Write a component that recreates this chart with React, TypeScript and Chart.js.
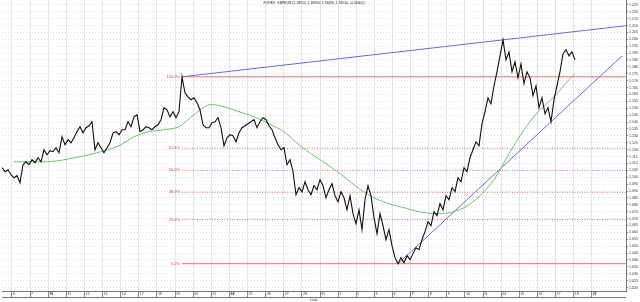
import React, { useEffect, useRef } from "react";
import { Chart, registerables } from "chart.js";

Chart.register(...registerables);

const chartTitle = "FOREX: GBPEUR (1.18910, 1.18990, 1.18490, 1.18510, -0.00400)";

// closing prices, one per bar
const priceValues = [
  1.1069, 1.1040, 1.1054, 1.1018, 1.0996, 1.1011, 1.0960, 1.1091, 1.1112, 1.1091,
  1.1127, 1.1105, 1.1141, 1.1112, 1.1199, 1.1163, 1.1192, 1.1185, 1.1214, 1.1178,
  1.1293, 1.1235, 1.1272, 1.1250, 1.1286, 1.1330, 1.1366, 1.1322, 1.1359, 1.1373,
  1.1402, 1.1199, 1.1250, 1.1214, 1.1178, 1.1214, 1.1250, 1.1322, 1.1330, 1.1308,
  1.1344, 1.1344, 1.1402, 1.1366, 1.1438, 1.1453, 1.1330, 1.1344, 1.1366, 1.1359,
  1.1344, 1.1366, 1.1380, 1.1417, 1.1504, 1.1489, 1.1438, 1.1475, 1.1431, 1.1475,
  1.1728, 1.1612, 1.1583, 1.1562, 1.1576, 1.1540, 1.1489, 1.1380, 1.1359, 1.1359,
  1.1395, 1.1402, 1.1431, 1.1359, 1.1228, 1.1286, 1.1308, 1.1301, 1.1257, 1.1322,
  1.1359, 1.1373, 1.1388, 1.1402, 1.1417, 1.1359, 1.1402, 1.1431, 1.1417, 1.1373,
  1.1344, 1.1286, 1.1235, 1.1199, 1.1214, 1.1091, 1.1127, 1.1040, 1.0873, 1.0924,
  1.0895, 1.0967, 1.0909, 1.0873, 1.0938, 1.0909, 1.0982, 1.0938, 1.0851, 1.0909,
  1.0953, 1.0866, 1.0822, 1.0895, 1.0851, 1.0764, 1.0866, 1.0736, 1.0663, 1.0764,
  1.0620, 1.0837, 1.0938, 1.0866, 1.0706, 1.0591, 1.0736, 1.0649, 1.0547, 1.0620,
  1.0504, 1.0417, 1.0373, 1.0417, 1.0380, 1.0431, 1.0402, 1.0446, 1.0489, 1.0475,
  1.0547, 1.0605, 1.0678, 1.0649, 1.0750, 1.0721, 1.0808, 1.0764, 1.0866, 1.0837,
  1.0924, 1.0895, 1.0996, 1.0967, 1.1069, 1.1040, 1.1141, 1.1199, 1.1257, 1.1228,
  1.1388, 1.1475, 1.1576, 1.1533, 1.1663, 1.1765, 1.1880, 1.1996, 1.1851, 1.1909,
  1.1765, 1.1837, 1.1721, 1.1822, 1.1678, 1.1765, 1.1721, 1.1591, 1.1663, 1.1504,
  1.1576, 1.1460, 1.1504, 1.1402, 1.1562, 1.1663, 1.1765, 1.1895, 1.1924, 1.1880,
  1.1909, 1.1851,
];

// moving average (bar index, value)
const maIndex = [
  4, 9, 14, 19, 24, 29, 34, 39, 44, 49, 54, 59, 64, 69, 74, 79, 84, 89, 94, 99,
  104, 109, 114, 119, 124, 129, 134, 139, 144, 149, 154, 159, 164, 169, 174, 179,
  184, 189, 191,
];
const maValues = [
  1.1112, 1.1112, 1.1112, 1.1120, 1.1141, 1.1163, 1.1192, 1.1228, 1.1293, 1.1330,
  1.1344, 1.1366, 1.1453, 1.1525, 1.1511, 1.1475, 1.1438, 1.1388, 1.1330, 1.1235,
  1.1156, 1.1083, 1.1004, 1.0917, 1.0851, 1.0808, 1.0779, 1.0750, 1.0736, 1.0743,
  1.0779, 1.0859, 1.0982, 1.1170, 1.1344, 1.1482, 1.1583, 1.1707, 1.1750,
];

const fibHighIndex = 60;
const fibLowIndex = 132;
const fibLevels = [0, 0.236, 0.382, 0.5, 0.618, 1];
const fibLabels = ["0.0%", "23.6%", "38.2%", "50.0%", "61.8%", "100.0%"];

const upperTrendAnchors = [60, 167];
const lowerTrendAnchors = [132, 183];
const lowerTrendEnd = 206.7;

const xTickLabels = [
  "6", "7", "10", "11", "12", "13", "14", "17", "18", "19", "20", "21", "24", "25",
  "26", "27", "28", "31", "1", "2", "3", "4", "7", "8", "9", "10", "11", "14", "15",
  "16", "17", "18", "21",
];
const xTickBold = [2, 12, 22, 32];
const xTickStart = 3.33;
const xTickStep = 6.04;
const X_MAX = 208;

const yTickValues = [
  1.02, 1.025, 1.03, 1.035, 1.04, 1.045, 1.05, 1.055, 1.06, 1.065, 1.07, 1.075,
  1.08, 1.085, 1.09, 1.095, 1.1, 1.105, 1.11, 1.115, 1.12, 1.125, 1.13, 1.135,
  1.14, 1.145, 1.15, 1.155, 1.16, 1.165, 1.17, 1.175, 1.18, 1.185, 1.19, 1.195,
  1.2, 1.205, 1.21, 1.215, 1.22, 1.225,
];
const Y_MIN = 1.0175;
const Y_MAX = 1.2285;

const FONT = "'Liberation Sans', Arial, sans-serif";

function trendValue(i0: number, i1: number, at: number) {
  const v0 = priceValues[i0];
  const v1 = priceValues[i1];
  return v0 + ((v1 - v0) * (at - i0)) / (i1 - i0);
}

const overlayPlugin = {
  id: "overlay",
  afterDatasetsDraw(chart: any) {
    const { ctx, chartArea, scales } = chart;
    const xs = scales.x;
    const ys = scales.y;
    ctx.save();
    // title
    ctx.font = `3.4px ${FONT}`;
    ctx.fillStyle = "#222";
    ctx.textAlign = "center";
    ctx.textBaseline = "middle";
    ctx.fillText(chartTitle, (chartArea.left + chartArea.right) / 2, 3.5);
    // fib labels
    const hi = priceValues[fibHighIndex];
    const lo = priceValues[fibLowIndex];
    ctx.font = `4px ${FONT}`;
    ctx.fillStyle = "#e04848";
    ctx.textAlign = "right";
    fibLevels.forEach((p, k) => {
      const y = ys.getPixelForValue(lo + p * (hi - lo));
      ctx.fillText(fibLabels[k], xs.getPixelForValue(fibHighIndex) - 2, y);
    });
    // bottom line of the date strip
    ctx.strokeStyle = "#777";
    ctx.lineWidth = 1;
    ctx.beginPath();
    ctx.moveTo(chartArea.left, xs.top + 6.5);
    ctx.lineTo(chartArea.right, xs.top + 6.5);
    ctx.stroke();
    ctx.restore();
  },
};

export default function App() {
  const ref = useRef<HTMLCanvasElement | null>(null);

  useEffect(() => {
    if (!ref.current) return;
    const hi = priceValues[fibHighIndex];
    const lo = priceValues[fibLowIndex];

    const fibSets = fibLevels.map((p) => ({
      data: [
        { x: fibHighIndex, y: lo + p * (hi - lo) },
        { x: X_MAX, y: lo + p * (hi - lo) },
      ],
      borderColor: "#f07070",
      borderWidth: 1,
      borderDash: p === 0 || p === 1 ? [] : [1, 1.5],
      pointRadius: 0,
      order: 4,
    }));

    const chart = new Chart(ref.current, {
      type: "line",
      data: {
        datasets: [
          {
            data: priceValues.map((v, i) => ({ x: i, y: v })),
            borderColor: "#111",
            borderWidth: 1.1,
            pointRadius: 0,
            tension: 0,
            order: 0,
          },
          {
            data: maIndex.map((ix, k) => ({ x: ix, y: maValues[k] })),
            borderColor: "#6cc46c",
            borderWidth: 1,
            pointRadius: 0,
            tension: 0.3,
            order: 1,
          },
          {
            data: [
              { x: upperTrendAnchors[0], y: priceValues[upperTrendAnchors[0]] },
              { x: X_MAX, y: trendValue(upperTrendAnchors[0], upperTrendAnchors[1], X_MAX) },
            ],
            borderColor: "#6a6ae0",
            borderWidth: 1,
            pointRadius: 0,
            order: 2,
          },
          {
            data: [
              { x: lowerTrendAnchors[0], y: priceValues[lowerTrendAnchors[0]] },
              { x: lowerTrendEnd, y: trendValue(lowerTrendAnchors[0], lowerTrendAnchors[1], lowerTrendEnd) },
            ],
            borderColor: "#6a6ae0",
            borderWidth: 1,
            pointRadius: 0,
            order: 2,
          },
          ...fibSets,
        ] as any,
      },
      options: {
        animation: false,
        responsive: false,
        devicePixelRatio: 1,
        layout: { padding: { left: 2, top: 0, right: 0, bottom: 0 } },
        plugins: { legend: { display: false }, tooltip: { enabled: false }, title: { display: false } },
        scales: {
          x: {
            type: "linear",
            position: "bottom",
            min: 0,
            max: X_MAX,
            afterBuildTicks: (scale: any) => {
              scale.ticks = xTickLabels.map((_, k) => ({ value: xTickStart + k * xTickStep }));
            },
            afterFit: (scale: any) => {
              scale.height = 11;
              scale.paddingLeft = 0;
              scale.paddingRight = 0;
            },
            ticks: {
              autoSkip: false,
              maxRotation: 0,
              minRotation: 0,
              align: "start",
              padding: -5,
              color: "#333",
              font: (c: any) => ({
                family: FONT,
                size: 3.6,
                weight: xTickBold.includes(c.index) ? "bold" : "normal",
              }),
              callback: (_v: any, i: number) => " " + xTickLabels[i],
            },
            grid: { color: "#e4e4e4", lineWidth: 1, drawTicks: true, tickLength: 6, tickColor: "#888" },
            border: { color: "#777", width: 1 },
            title: { display: true, text: "Date", font: { family: FONT, size: 3.6 }, color: "#333", padding: 0 },
          },
          y: {
            type: "linear",
            position: "right",
            min: Y_MIN,
            max: Y_MAX,
            afterBuildTicks: (scale: any) => {
              scale.ticks = yTickValues.map((v) => ({ value: v }));
            },
            afterFit: (scale: any) => {
              scale.width = 14;
              scale.paddingTop = 0;
              scale.paddingBottom = 0;
            },
            ticks: {
              autoSkip: false,
              padding: 1,
              color: "#333",
              font: { family: FONT, size: 3.6 },
              callback: (v: any) => Number(v).toFixed(3),
            },
            grid: { color: "#e2e2e2", lineWidth: 1, drawTicks: true, tickLength: 2, tickColor: "#888" },
            border: { color: "#777", width: 1, dash: [1, 2] },
          },
        },
      } as any,
      plugins: [overlayPlugin],
    });
    return () => chart.destroy();
  }, []);

  return (
    <div style={{ position: "fixed", left: 0, top: 0, width: 640, height: 302, background: "#fff" }}>
      <canvas ref={ref} width={640} height={302} style={{ display: "block" }} />
    </div>
  );
}
